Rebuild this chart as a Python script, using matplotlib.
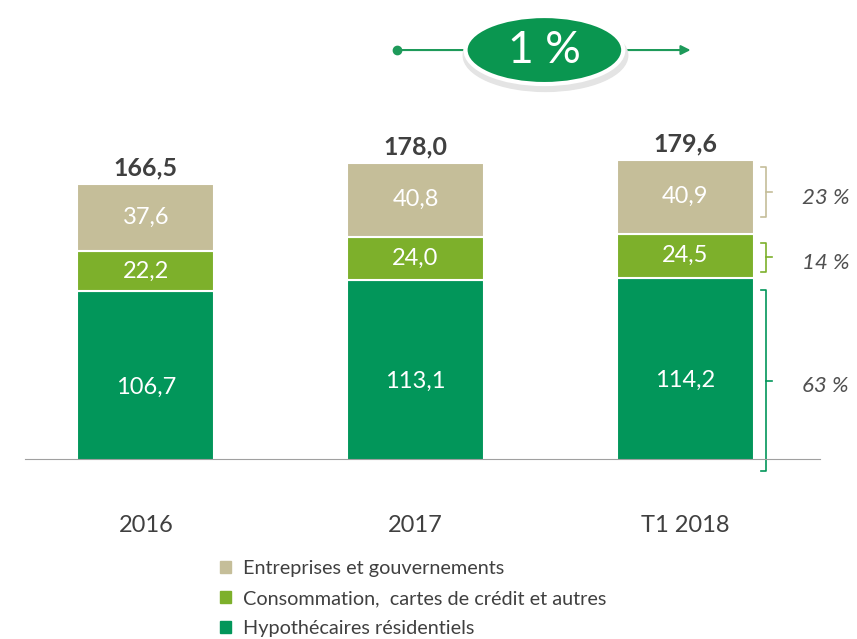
import numpy as np
import matplotlib.pyplot as plt
from matplotlib.patches import Ellipse, Patch

# =========================
# DATA
# =========================

years = ["2016", "2017", "T1 2018"]
hypo = [106.7, 113.1, 114.2]
conso = [22.2, 24.0, 24.5]
entre = [37.6, 40.8, 40.9]
totals = [166.5, 178.0, 179.6]
shares = [63, 14, 23]   # last year: hypo, conso, entre
growth_label = "1 %"

names = ["Hypothécaires résidentiels",
         "Consommation,  cartes de crédit et autres",
         "Entreprises et gouvernements"]
colors = ["#02965A", "#7DB02B", "#C5BE99"]

plt.rcParams["font.family"] = ["Lato", "DejaVu Sans"]

def fr(v):
    return f"{v:.1f}".replace(".", ",")

# =========================
# PLOT
# =========================

fig = plt.figure(figsize=(8.57, 6.39), dpi=100)
ax = fig.add_axes([25 / 857, 0.2817, 795 / 857, 0.7183])

x = np.arange(len(years))
width = 0.507
series = [hypo, conso, entre]
bottoms = np.zeros(len(years))
seg_bounds = []
for vals, col in zip(series, colors):
    vals = np.array(vals)
    ax.bar(x, vals, width, bottom=bottoms, color=col,
           edgecolor="white", linewidth=1.5)
    for xi, b, v in zip(x, bottoms, vals):
        ax.text(xi, b + v / 2, fr(v), ha="center", va="center",
                color="white", fontsize=17)
    seg_bounds.append((bottoms[-1], bottoms[-1] + vals[-1]))
    bottoms = bottoms + vals

for xi, t in zip(x, totals):
    ax.annotate(fr(t), (xi, t), xytext=(0, 3), textcoords="offset points",
                ha="center", va="bottom", fontsize=18, fontweight="bold",
                color="#404040")

# brackets with share labels for last year
pads = [(7, -7), (3, -5), (9, -4)]
bx = 2.30
for (lo, hi), (plo, phi), col, s in zip(seg_bounds, pads, colors, shares):
    y0, y1 = lo + plo, hi + phi
    ym = (y0 + y1) / 2
    ax.plot([bx - 0.019, bx, bx, bx - 0.019], [y0, y0, y1, y1],
            color=col, lw=1.2, clip_on=False)
    ax.plot([bx, bx + 0.022], [ym, ym], color=col, lw=1.2, clip_on=False)
    ax.text(2.52, ym - 3, f"{s} %", ha="center", va="center", fontsize=16,
            style="italic", color="#505050")

# growth badge
by = 240.7
ax.plot([0.933], [by], "o", color="#1E9A5A", ms=6)
ax.annotate("", xy=(2.02, by), xytext=(0.933, by),
            arrowprops=dict(arrowstyle="-|>", color="#1E9A5A", lw=1.5,
                            mutation_scale=14, shrinkA=0, shrinkB=0))
ax.add_patch(Ellipse((1.482, by - 3), 0.61, 40, color="#E4E4E4", zorder=3))
ax.add_patch(Ellipse((1.478, by), 0.585, 37.8, facecolor="#0A9650",
                     edgecolor="white", lw=3, zorder=4))
ax.text(1.478, by, growth_label, ha="center", va="center", color="white",
        fontsize=32, zorder=5)

ax.set_xlim(-0.448, 2.5)
ax.set_ylim(13.5, 268.5)
for s in ["top", "right", "left"]:
    ax.spines[s].set_visible(False)
ax.spines["bottom"].set_color("#A0A0A0")
ax.set_yticks([])
ax.set_xticks(x)
ax.set_xticklabels(years, fontsize=17, color="#404040")
ax.tick_params(axis="x", length=0, pad=40)

handles = [Patch(color=c, label=n) for c, n in zip(colors, names)][::-1]
fig.legend(handles=handles, loc="upper left", bbox_to_anchor=(0.248, 0.136),
           frameon=False, fontsize=14.3, handlelength=0.55, handleheight=0.55,
           handletextpad=0.6, labelspacing=0.66, borderaxespad=0,
           labelcolor="#404040")

fig.savefig("out.png", dpi=100)
